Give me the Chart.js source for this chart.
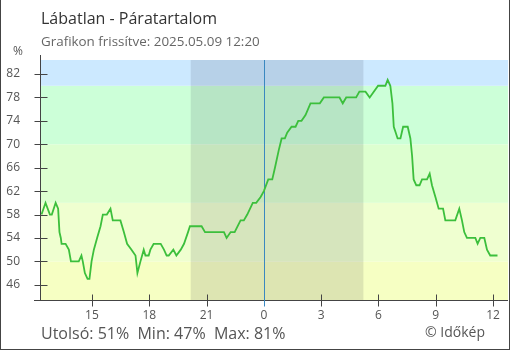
<!DOCTYPE html>
<html lang="hu">
<head>
<meta charset="utf-8">
<title>Lábatlan - Páratartalom</title>
<script src="https://cdn.jsdelivr.net/npm/chart.js@4/dist/chart.umd.min.js"></script>
<style>
  body { margin: 0; background: #fff; font-family: "Open Sans", sans-serif; }
  #doboz { position: relative; width: 510px; height: 350px; overflow: hidden; }
  #grafikon { position: absolute; left: 0; top: 0; }
  #keret { position: absolute; left: 0; top: 0; width: 510px; height: 350px; box-sizing: border-box;
           border: 1px solid #444; border-top: none; pointer-events: none; }
  .szoveg { position: absolute; white-space: pre; line-height: 20px; }
  #cim { left: 41px; top: 8px; font-size: 16px; color: #333; }
  #frissites { left: 41px; top: 31px; font-size: 13.4px; color: #666; }
  #egyseg { left: 13px; top: 41px; font-size: 12px; color: #555; }
  #osszegzes { left: 41px; top: 323px; font-size: 16px; color: #555; }
  #forras { left: 425px; top: 322px; font-size: 14px; color: #555; }
</style>
</head>
<body>
<div id="doboz">
  <canvas id="grafikon" width="510" height="350"></canvas>
  <div class="szoveg" id="cim">Lábatlan - Páratartalom</div>
  <div class="szoveg" id="frissites">Grafikon frissítve: 2025.05.09 12:20</div>
  <div class="szoveg" id="egyseg">%</div>
  <div class="szoveg" id="osszegzes">Utolsó: 51%  Min: 47%  Max: 81%</div>
  <div class="szoveg" id="forras">© Időkép</div>
  <div id="keret"></div>
</div>

<script>
// mérési időpontok órában, éjfélhez képest (negatív = előző nap)
const orak = [
  -11.64, -11.43, -11.20, -11.10, -10.90, -10.77, -10.70, -10.63, -10.59, -10.38,
  -10.21, -10.10, -9.69, -9.55, -9.48, -9.37, -9.23, -9.13, -9.02, -8.90,
  -8.73, -8.55, -8.43, -8.22, -8.03, -7.91, -7.51, -7.33, -7.16, -6.93,
  -6.72, -6.62, -6.46, -6.29, -6.20, -6.03, -5.94, -5.77, -5.40, -5.23,
  -5.09, -4.98, -4.74, -4.58, -4.35, -4.18, -3.97, -3.87, -3.26, -3.08,
  -2.09, -1.95, -1.74, -1.53, -1.22, -1.05, -0.87, -0.58, -0.40, -0.17,
  0.00, 0.23, 0.44, 0.58, 0.78, 0.93, 1.10, 1.22, 1.45, 1.66,
  1.80, 1.97, 2.18, 2.44, 2.93, 3.14, 3.96, 4.13, 4.31, 4.83,
  5.00, 5.32, 5.54, 5.98, 6.36, 6.48, 6.62, 6.73, 6.80, 6.90,
  7.00, 7.15, 7.29, 7.53, 7.67, 7.76, 7.84, 7.98, 8.15, 8.28,
  8.54, 8.68, 8.80, 8.98, 9.15, 9.38, 9.50, 10.02, 10.23, 10.37,
  10.49, 10.63, 11.07, 11.19, 11.33, 11.54, 11.68, 11.85, 12.23
];

// relatív páratartalom (%)
const paratartalom = [
  58, 60, 58, 58, 60, 59, 55, 54, 53, 53,
  52, 50, 50, 51, 50, 48, 47, 47, 50, 52,
  54, 56, 58, 58, 59, 57, 57, 55, 53, 52,
  51, 48, 50, 52, 51, 51, 52, 53, 53, 52,
  51, 51, 52, 51, 52, 53, 55, 56, 56, 55,
  55, 54, 55, 55, 57, 57, 58, 60, 60, 61,
  62, 64, 64, 66, 69, 71, 71, 72, 73, 73,
  74, 74, 75, 77, 77, 78, 78, 77, 78, 78,
  79, 79, 78, 80, 80, 81, 80, 77, 73, 72,
  71, 71, 73, 73, 71, 68, 64, 63, 63, 64,
  64, 65, 63, 61, 59, 59, 57, 57, 59, 57,
  55, 54, 54, 53, 54, 54, 52, 51, 51
];

const yCimkek = [46, 50, 54, 58, 62, 66, 70, 74, 78, 82];

// háttérsávok: alsó határ, felső határ, szín
const savHatarok = [0, 50, 60, 70, 80, 100];
const savSzinek = ['#f6ffc3', '#efffd0', '#ddffd0', '#ccffd8', '#cce9ff'];

// napnyugta és napkelte (óra, éjfélhez képest)
const napnyugta = -3.83;
const napkelte = 5.21;

const hatterPlugin = {
  id: 'hatter',
  beforeDatasetsDraw(chart) {
    const { ctx, chartArea: a, scales: { x, y } } = chart;
    ctx.save();
    for (let i = 0; i < savSzinek.length; i++) {
      const y1 = Math.max(a.top, y.getPixelForValue(savHatarok[i + 1]));
      const y2 = Math.min(a.bottom, y.getPixelForValue(savHatarok[i]));
      if (y2 <= y1) continue;
      ctx.fillStyle = savSzinek[i];
      ctx.fillRect(a.left, y1, a.right - a.left, y2 - y1);
    }
    // éjszaka
    const x1 = x.getPixelForValue(napnyugta);
    const x2 = x.getPixelForValue(napkelte);
    ctx.fillStyle = 'rgba(0, 0, 30, 0.1)';
    ctx.fillRect(x1, a.top, x2 - x1, a.bottom - a.top);
    // éjfél
    const xe = Math.round(x.getPixelForValue(0)) + 0.5;
    ctx.strokeStyle = '#3a88c0';
    ctx.lineWidth = 1;
    ctx.beginPath();
    ctx.moveTo(xe, a.top);
    ctx.lineTo(xe, a.bottom + 6);
    ctx.stroke();
    ctx.restore();
  },
  afterDraw(chart) {
    const { ctx, chartArea: a, scales: { x, y } } = chart;
    ctx.save();
    ctx.strokeStyle = '#444';
    ctx.lineWidth = 1;
    ctx.beginPath();
    const xt = Math.round(a.left) - 0.5;
    const yt = Math.round(a.bottom) + 0.5;
    ctx.moveTo(xt, a.top - 5);
    ctx.lineTo(xt, yt);
    ctx.moveTo(a.left - 7, yt);
    ctx.lineTo(a.right, yt);
    y.ticks.forEach(t => {
      const py = Math.round(y.getPixelForValue(t.value)) + 0.5;
      ctx.moveTo(xt - 6, py);
      ctx.lineTo(xt + 7, py);
    });
    ctx.stroke();
    x.ticks.forEach(t => {
      const px = Math.round(x.getPixelForValue(t.value)) + 0.5;
      ctx.strokeStyle = t.value === 0 ? '#3a88c0' : '#444';
      ctx.beginPath();
      ctx.moveTo(px, yt - 6);
      ctx.lineTo(px, yt + 6);
      ctx.stroke();
    });
    ctx.restore();
  }
};

const ctx = document.getElementById('grafikon').getContext('2d');
new Chart(ctx, {
  type: 'line',
  data: {
    datasets: [{
      label: 'Páratartalom',
      data: orak.map((o, i) => ({ x: o, y: paratartalom[i] })),
      borderColor: '#3cbf3c',
      borderWidth: 1.8,
      pointRadius: 0,
      tension: 0
    }]
  },
  options: {
    responsive: false,
    animation: false,
    layout: { padding: { left: 0, top: 60, right: 2, bottom: 24 } },
    plugins: {
      legend: { display: false },
      tooltip: { enabled: false }
    },
    scales: {
      x: {
        type: 'linear',
        min: -11.667,
        max: 12.78,
        grid: { display: false, drawTicks: false },
        border: { display: false },
        afterFit: s => { s.height = 26; },
        ticks: {
          stepSize: 3,
          includeBounds: false,
          autoSkip: false,
          maxRotation: 0,
          padding: 8,
          color: '#555',
          font: { family: 'Open Sans', size: 12 },
          callback: v => ((v % 24) + 24) % 24
        }
      },
      y: {
        min: 43.4,
        max: 84.4,
        grid: { display: false, drawTicks: false },
        border: { display: false },
        afterFit: s => { s.width = 41; },
        afterBuildTicks: s => { s.ticks = yCimkek.map(v => ({ value: v })); },
        ticks: {
          padding: 21,
          color: '#555',
          font: { family: 'Open Sans', size: 12 }
        }
      }
    }
  },
  plugins: [hatterPlugin]
});
</script>
</body>
</html>
